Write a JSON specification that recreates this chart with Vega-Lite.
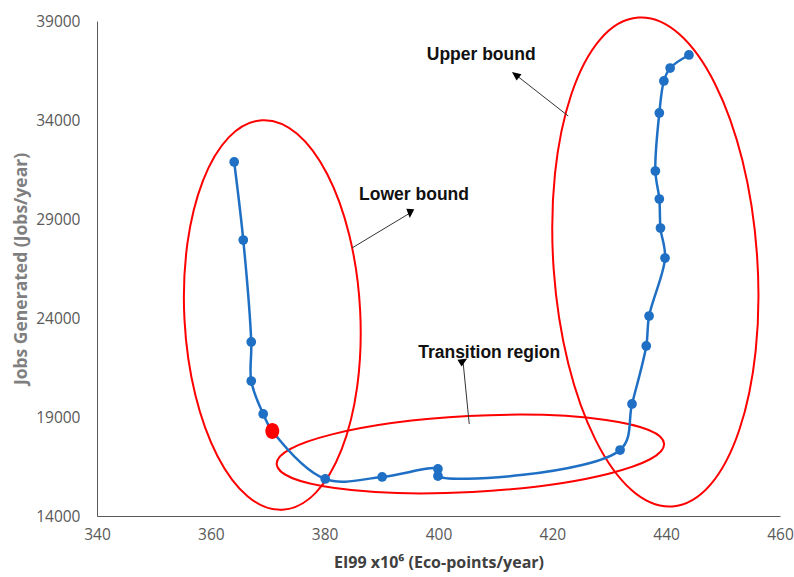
{
  "$schema": "https://vega.github.io/schema/vega-lite/v6.json",
  "width": 683,
  "height": 495,
  "autosize": {"type": "none"},
  "padding": {"left": 97, "top": 21, "right": 14, "bottom": 61},
  "background": "white",
  "config": {
    "view": {"stroke": null},
    "axis": {
      "grid": false,
      "ticks": false,
      "labelFlush": false,
      "domainColor": "#595959",
      "domainWidth": 1,
      "labelColor": "#595959",
      "labelFont": "Open Sans",
      "labelFontSize": 15.5,
      "titleColor": "#595959",
      "titleFont": "Open Sans",
      "titleFontSize": 15,
      "titleFontWeight": "bold"
    }
  },
  "encoding": {
    "x": {
      "field": "x",
      "type": "quantitative",
      "scale": {"domain": [340, 460], "nice": false, "zero": false},
      "axis": {"values": [340, 360, 380, 400, 420, 440, 460], "labelPadding": 11, "title": "EI99 x10⁶ (Eco-points/year)", "titlePadding": 12, "titleFontSize": 16, "titleColor": "#404040"}
    },
    "y": {
      "field": "y",
      "type": "quantitative",
      "scale": {"domain": [14000, 39000], "nice": false, "zero": false},
      "axis": {"values": [14000, 19000, 24000, 29000, 34000, 39000], "labelPadding": 17, "title": "Jobs Generated (Jobs/year)", "titlePadding": 5, "titleFontSize": 17.5, "titleColor": "#7f7f7f", "format": "d"}
    }
  },
  "layer": [
    {
      "data": {"values": [{"x": 370.8, "y": 24152}]},
      "mark": {"type": "point", "filled": false, "stroke": "#ff0000", "strokeWidth": 2, "opacity": 1, "size": 152100, "angle": -3,
        "shape": "M 0.451,0 C 0.451,0.552 0.249,1 0,1 C -0.249,1 -0.451,0.552 -0.451,0 C -0.451,-0.552 -0.249,-1 0,-1 C 0.249,-1 0.451,-0.552 0.451,0 Z"}
    },
    {
      "data": {"values": [{"x": 438.1, "y": 26828}]},
      "mark": {"type": "point", "filled": false, "stroke": "#ff0000", "strokeWidth": 2, "opacity": 1, "size": 240100, "angle": -4,
        "shape": "M 0.416,0 C 0.416,0.552 0.23,1 0,1 C -0.23,1 -0.416,0.552 -0.416,0 C -0.416,-0.552 -0.23,-1 0,-1 C 0.23,-1 0.416,-0.552 0.416,0 Z"}
    },
    {
      "data": {"values": [{"x": 405.6, "y": 17131}]},
      "mark": {"type": "point", "filled": false, "stroke": "#ff0000", "strokeWidth": 2, "opacity": 1, "size": 150544, "angle": -3,
        "shape": "M 1,0 C 1,0.108 0.552,0.196 0,0.196 C -0.552,0.196 -1,0.108 -1,0 C -1,-0.108 -0.552,-0.196 0,-0.196 C 0.552,-0.196 1,-0.108 1,0 Z"}
    },
    {
      "data": {"name": "curve", "values": [
        {"order": 1, "x": 364.1, "y": 31879},
        {"order": 2, "x": 365.7, "y": 27939},
        {"order": 3, "x": 367.1, "y": 22788},
        {"order": 4, "x": 367.1, "y": 20818},
        {"order": 5, "x": 369.2, "y": 19152},
        {"order": 6, "x": 370.8, "y": 18293},
        {"order": 7, "x": 380.1, "y": 15869},
        {"order": 8, "x": 390.1, "y": 15970},
        {"order": 9, "x": 399.9, "y": 16374},
        {"order": 10, "x": 399.9, "y": 16020},
        {"order": 11, "x": 431.9, "y": 17333},
        {"order": 12, "x": 434.0, "y": 19657},
        {"order": 13, "x": 436.5, "y": 22586},
        {"order": 14, "x": 437.0, "y": 24101},
        {"order": 15, "x": 439.8, "y": 27030},
        {"order": 16, "x": 439.0, "y": 28545},
        {"order": 17, "x": 438.8, "y": 30010},
        {"order": 18, "x": 438.1, "y": 31424},
        {"order": 19, "x": 438.8, "y": 34354},
        {"order": 20, "x": 439.6, "y": 35970},
        {"order": 21, "x": 440.7, "y": 36626},
        {"order": 22, "x": 444.0, "y": 37283}
      ]},
      "mark": {"type": "line", "color": "#1f70c4", "strokeWidth": 2.5, "interpolate": "catmull-rom"},
      "encoding": {"order": {"field": "order", "type": "quantitative"}}
    },
    {
      "data": {"values": [
        {"order": 1, "x": 364.1, "y": 31879},
        {"order": 2, "x": 365.7, "y": 27939},
        {"order": 3, "x": 367.1, "y": 22788},
        {"order": 4, "x": 367.1, "y": 20818},
        {"order": 5, "x": 369.2, "y": 19152},
        {"order": 7, "x": 380.1, "y": 15869},
        {"order": 8, "x": 390.1, "y": 15970},
        {"order": 9, "x": 399.9, "y": 16374},
        {"order": 10, "x": 399.9, "y": 16020},
        {"order": 11, "x": 431.9, "y": 17333},
        {"order": 12, "x": 434.0, "y": 19657},
        {"order": 13, "x": 436.5, "y": 22586},
        {"order": 14, "x": 437.0, "y": 24101},
        {"order": 15, "x": 439.8, "y": 27030},
        {"order": 16, "x": 439.0, "y": 28545},
        {"order": 17, "x": 438.8, "y": 30010},
        {"order": 18, "x": 438.1, "y": 31424},
        {"order": 19, "x": 438.8, "y": 34354},
        {"order": 20, "x": 439.6, "y": 35970},
        {"order": 21, "x": 440.7, "y": 36626},
        {"order": 22, "x": 444.0, "y": 37283}
      ]},
      "mark": {"type": "circle", "color": "#1f70c4", "size": 95, "opacity": 1}
    },
    {
      "data": {"values": [{"x": 370.8, "y": 18293}]},
      "mark": {"type": "point", "shape": "M 0,-1 C 0.48,-1 0.87,-0.55 0.87,0 C 0.87,0.55 0.48,1 0,1 C -0.48,1 -0.87,0.55 -0.87,0 C -0.87,-0.55 -0.48,-1 0,-1 Z", "filled": true, "fill": "#ff0000", "size": 256, "opacity": 1}
    },
    {
      "data": {"name": "arrows", "values": [
        {"label": "Upper bound", "x": 422.8, "y": 34202, "x2": 413.6, "y2": 36273},
        {"label": "Lower bound", "x": 384.8, "y": 27535, "x2": 395.0, "y2": 29303},
        {"label": "Transition region", "x": 405.4, "y": 18646, "x2": 404.3, "y2": 21828}
      ]},
      "mark": {"type": "rule", "color": "#333333", "strokeWidth": 1},
      "encoding": {"x2": {"field": "x2"}, "y2": {"field": "y2"}}
    },
    {
      "data": {"values": [
        {"label": "Upper bound", "x": 413.6, "y": 36273},
        {"label": "Lower bound", "x": 395.0, "y": 29303},
        {"label": "Transition region", "x": 404.3, "y": 21828}
      ]},
      "mark": {"type": "point", "shape": "M 0,-1 L 0.8,0.8 L -0.8,0.8 Z", "filled": true, "fill": "#000000", "size": 100, "opacity": 1},
      "encoding": {
        "angle": {"field": "label", "type": "nominal", "legend": null,
          "scale": {"domain": ["Upper bound", "Lower bound", "Transition region"], "range": [308, 59, -5]}}
      }
    },
    {
      "data": {"values": [
        {"label": "Upper bound", "x": 407.5, "y": 37283},
        {"label": "Lower bound", "x": 395.7, "y": 30212},
        {"label": "Transition region", "x": 408.9, "y": 22232}
      ]},
      "mark": {"type": "text", "font": "Liberation Sans", "fontSize": 17.5, "fontWeight": "bold", "color": "#111111", "align": "center", "baseline": "middle"},
      "encoding": {"text": {"field": "label"}}
    }
  ]
}
